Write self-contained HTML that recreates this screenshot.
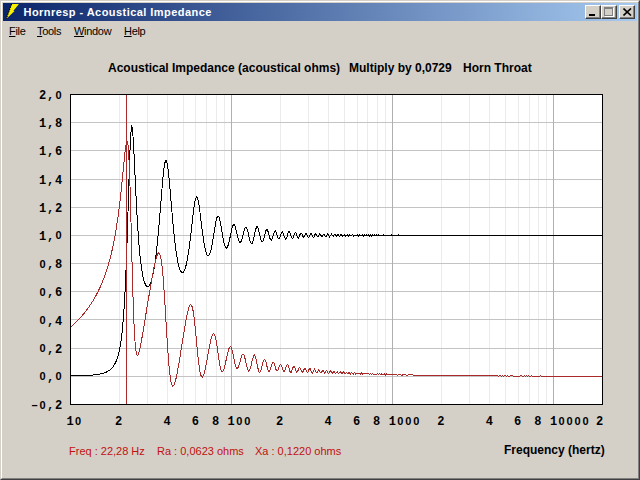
<!DOCTYPE html>
<html><head><meta charset="utf-8"><style>
*{margin:0;padding:0;box-sizing:border-box}
html,body{width:640px;height:480px;overflow:hidden;background:#d4d0c8;position:relative;font-family:"Liberation Sans",sans-serif}
.frame{position:absolute;left:0;top:0;width:640px;height:480px;border-top:1px solid #d4d0c8;border-left:1px solid #d4d0c8;border-right:1px solid #404040;border-bottom:1px solid #404040}
.frame2{position:absolute;left:1px;top:1px;width:638px;height:478px;border-top:1px solid #fff;border-left:1px solid #fff;border-right:1px solid #808080;border-bottom:1px solid #808080}
.title{position:absolute;left:3px;top:3px;width:634px;height:18px;background:linear-gradient(to right,#0a246a,#a6caf0)}
.ttext{position:absolute;left:23.5px;top:4px;color:#fff;font-weight:bold;font-size:11px;letter-spacing:0.45px;line-height:16px;white-space:nowrap}
.btn{position:absolute;top:5px;width:16px;height:14px;background:#d4d0c8;border-top:1px solid #fff;border-left:1px solid #fff;border-right:1px solid #404040;border-bottom:1px solid #404040;box-shadow:inset -1px -1px 0 #808080}
.menu{position:absolute;top:25px;font-size:11px;letter-spacing:-0.3px;line-height:13px;color:#000;white-space:nowrap}
.menu u{text-decoration:underline}
.ctitle{position:absolute;top:62px;font-size:12px;font-weight:bold;line-height:13px;white-space:nowrap;color:#000}
.yl{position:absolute;right:577.5px;font-family:"Liberation Mono",monospace;font-weight:bold;font-size:12px;letter-spacing:0.8px;line-height:16px;white-space:nowrap;color:#000}
.xl{position:absolute;top:414px;font-family:"Liberation Mono",monospace;font-weight:bold;font-size:12px;letter-spacing:0.8px;line-height:16px;white-space:nowrap;color:#000}
.yl i,.xl i{font-style:normal;display:inline-block;width:8px;height:16px;text-align:center;letter-spacing:0;vertical-align:top}
.yl i.z,.xl i.z{font-family:"Liberation Sans",sans-serif;font-size:11px;position:relative;top:-1.5px}
.st{position:absolute;top:445px;font-size:11px;line-height:13px;white-space:nowrap;color:#c01010}
</style></head><body>
<div class="frame"></div><div class="frame2"></div>
<div class="title"></div>
<svg style="position:absolute;left:5px;top:3px" width="16" height="17" viewBox="0 0 16 17"><path d="M6.6 1 L13.9 1 L8.3 8 L9.6 8 L1.2 15.9 Z" fill="#f8f000"/><path d="M6.6 1 L1.2 15.9" stroke="#000" stroke-width="1.1" stroke-dasharray="1.6 0.9"/></svg>
<div class="ttext">Hornresp - Acoustical Impedance</div>
<div class="btn" style="left:585px"><div style="position:absolute;left:3px;top:8px;width:6px;height:2px;background:#000"></div></div>
<div class="btn" style="left:601px"><div style="position:absolute;left:2px;top:1px;width:9px;height:9px;border:1px solid #808080;border-top-width:2px;box-shadow:1px 1px 0 #fff"></div></div>
<div class="btn" style="left:619px"><svg style="position:absolute;left:3px;top:2px" width="9" height="8" viewBox="0 0 9 8"><path d="M0.5 0.5 L8 7.5 M8 0.5 L0.5 7.5" stroke="#000" stroke-width="1.6"/></svg></div>
<div class="menu" style="left:9px"><u>F</u>ile</div>
<div class="menu" style="left:37px"><u>T</u>ools</div>
<div class="menu" style="left:74px"><u>W</u>indow</div>
<div class="menu" style="left:124px"><u>H</u>elp</div>
<div class="ctitle" style="left:108px">Acoustical Impedance (acoustical ohms)</div>
<div class="ctitle" style="left:349px">Multiply by 0,0729</div>
<div class="ctitle" style="left:463px">Horn Throat</div>
<svg width="640" height="480" viewBox="0 0 640 480" style="position:absolute;left:0;top:0">
<defs><clipPath id="pc"><rect x="71" y="95" width="531" height="309"/></clipPath></defs>
<rect x="70" y="94" width="533" height="311" fill="#fff"/>
<g shape-rendering="crispEdges"><line x1="119.5" y1="95" x2="119.5" y2="404" stroke="#ebebeb"/>
<line x1="147.5" y1="95" x2="147.5" y2="404" stroke="#ebebeb"/>
<line x1="167.5" y1="95" x2="167.5" y2="404" stroke="#ebebeb"/>
<line x1="183.5" y1="95" x2="183.5" y2="404" stroke="#ebebeb"/>
<line x1="195.5" y1="95" x2="195.5" y2="404" stroke="#ebebeb"/>
<line x1="206.5" y1="95" x2="206.5" y2="404" stroke="#ebebeb"/>
<line x1="216.5" y1="95" x2="216.5" y2="404" stroke="#ebebeb"/>
<line x1="224.5" y1="95" x2="224.5" y2="404" stroke="#ebebeb"/>
<line x1="280.5" y1="95" x2="280.5" y2="404" stroke="#ebebeb"/>
<line x1="308.5" y1="95" x2="308.5" y2="404" stroke="#ebebeb"/>
<line x1="328.5" y1="95" x2="328.5" y2="404" stroke="#ebebeb"/>
<line x1="344.5" y1="95" x2="344.5" y2="404" stroke="#ebebeb"/>
<line x1="357.5" y1="95" x2="357.5" y2="404" stroke="#ebebeb"/>
<line x1="367.5" y1="95" x2="367.5" y2="404" stroke="#ebebeb"/>
<line x1="377.5" y1="95" x2="377.5" y2="404" stroke="#ebebeb"/>
<line x1="385.5" y1="95" x2="385.5" y2="404" stroke="#ebebeb"/>
<line x1="441.5" y1="95" x2="441.5" y2="404" stroke="#ebebeb"/>
<line x1="469.5" y1="95" x2="469.5" y2="404" stroke="#ebebeb"/>
<line x1="489.5" y1="95" x2="489.5" y2="404" stroke="#ebebeb"/>
<line x1="505.5" y1="95" x2="505.5" y2="404" stroke="#ebebeb"/>
<line x1="518.5" y1="95" x2="518.5" y2="404" stroke="#ebebeb"/>
<line x1="529.5" y1="95" x2="529.5" y2="404" stroke="#ebebeb"/>
<line x1="538.5" y1="95" x2="538.5" y2="404" stroke="#ebebeb"/>
<line x1="546.5" y1="95" x2="546.5" y2="404" stroke="#ebebeb"/>
<line x1="602.5" y1="95" x2="602.5" y2="404" stroke="#ebebeb"/>
<line x1="71" y1="122.5" x2="602" y2="122.5" stroke="#c4c4c4"/>
<line x1="71" y1="150.5" x2="602" y2="150.5" stroke="#c4c4c4"/>
<line x1="71" y1="179.5" x2="602" y2="179.5" stroke="#c4c4c4"/>
<line x1="71" y1="207.5" x2="602" y2="207.5" stroke="#c4c4c4"/>
<line x1="71" y1="235.5" x2="602" y2="235.5" stroke="#c4c4c4"/>
<line x1="71" y1="263.5" x2="602" y2="263.5" stroke="#c4c4c4"/>
<line x1="71" y1="291.5" x2="602" y2="291.5" stroke="#c4c4c4"/>
<line x1="71" y1="319.5" x2="602" y2="319.5" stroke="#c4c4c4"/>
<line x1="71" y1="348.5" x2="602" y2="348.5" stroke="#c4c4c4"/>
<line x1="71" y1="376.5" x2="602" y2="376.5" stroke="#c4c4c4"/>
<line x1="231.5" y1="95" x2="231.5" y2="404" stroke="#b0b0b0"/>
<line x1="392.5" y1="95" x2="392.5" y2="404" stroke="#b0b0b0"/>
<line x1="553.5" y1="95" x2="553.5" y2="404" stroke="#b0b0b0"/></g>
<g clip-path="url(#pc)" fill="none" stroke-width="1" stroke-linejoin="round" shape-rendering="crispEdges">
<polyline points="70.50,375.98 71.50,375.96 72.50,375.94 73.50,375.92 74.50,375.90 75.50,375.88 76.50,375.85 77.50,375.83 78.50,375.80 79.50,375.77 80.50,375.74 81.50,375.70 82.50,375.66 83.50,375.62 84.50,375.58 85.50,375.53 86.50,375.48 87.50,375.42 88.50,375.36 89.50,375.30 90.50,375.22 91.50,375.14 92.50,375.05 93.50,374.96 94.50,374.85 95.50,374.73 96.50,374.60 97.50,374.46 98.50,374.30 99.50,374.11 100.50,373.91 101.50,373.68 102.50,373.43 103.50,373.14 104.50,372.80 105.50,372.43 106.50,371.99 107.50,371.49 108.50,370.92 109.50,370.25 110.50,369.46 111.50,368.54 112.50,367.45 113.50,366.16 114.50,364.60 115.50,362.72 116.50,360.43 117.50,357.62 118.50,354.13 119.50,349.77 120.50,344.27 121.50,337.26 122.50,328.26 123.50,316.64 124.50,301.60 125.50,282.26 126.50,257.86 127.50,228.32 128.50,195.22 129.50,162.78 130.50,137.60 131.50,125.74 132.50,128.86 133.50,143.52 134.50,164.09 135.50,185.89 136.50,206.17 137.50,223.78 138.50,238.52 139.50,250.59 140.50,260.33 141.50,268.09 142.50,274.18 143.50,278.85 144.50,282.30 145.50,284.69 146.50,286.11 147.50,286.65 148.50,286.33 149.50,285.19 150.50,283.21 151.50,280.36 152.50,276.60 153.50,271.86 154.50,266.07 155.50,259.15 156.50,251.04 157.50,241.70 158.50,231.16 159.50,219.56 160.50,207.21 161.50,194.65 162.50,182.68 163.50,172.29 164.50,164.60 165.50,160.53 166.50,160.64 167.50,164.85 168.50,172.56 169.50,182.78 170.50,194.39 171.50,206.43 172.50,218.12 173.50,228.96 174.50,238.68 175.50,247.13 176.50,254.30 177.50,260.20 178.50,264.89 179.50,268.43 180.50,270.87 181.50,272.26 182.50,272.62 183.50,271.95 184.50,270.25 185.50,267.47 186.50,263.60 187.50,258.61 188.50,252.48 189.50,245.27 190.50,237.11 191.50,228.28 192.50,219.27 193.50,210.76 194.50,203.60 195.50,198.67 196.50,196.66 197.50,197.85 198.50,202.01 199.50,208.46 200.50,216.29 201.50,224.59 202.50,232.61 203.50,239.82 204.50,245.87 205.50,250.56 206.50,253.80 207.50,255.55 208.50,255.80 209.50,254.55 210.50,251.85 211.50,247.76 212.50,242.47 213.50,236.30 214.50,229.78 215.50,223.64 216.50,218.80 217.50,216.10 218.50,216.06 219.50,218.66 220.50,223.32 221.50,229.15 222.50,235.15 223.50,240.51 224.50,244.65 225.50,247.20 226.50,247.98 227.50,246.96 228.50,244.24 229.50,240.14 230.50,235.21 231.50,230.27 232.50,226.37 233.50,224.44 234.50,224.98 235.50,227.75 236.50,231.90 237.50,236.31 238.50,239.95 239.50,242.07 240.50,242.30 241.50,240.60 242.50,237.30 243.50,233.14 244.50,229.28 245.50,227.02 246.50,227.26 247.50,230.02 248.50,234.38 249.50,238.92 250.50,242.35 251.50,243.79 252.50,242.84 253.50,239.64 254.50,234.94 255.50,230.09 256.50,226.86 257.50,226.59 258.50,229.40 259.50,234.02 260.50,238.58 261.50,241.50 262.50,241.91 263.50,239.77 264.50,235.83 265.50,231.69 266.50,229.30 267.50,229.91 268.50,233.10 269.50,237.07 270.50,239.83 271.50,240.16 272.50,237.96 273.50,234.37 274.50,231.42 275.50,230.98 276.50,233.26 277.50,236.56 278.50,238.63 279.50,238.18 280.50,235.51 281.50,232.54 282.50,231.67 283.50,233.79 284.50,237.25 285.50,239.36 286.50,238.48 287.50,235.09 288.50,231.69 289.50,231.21 290.50,234.08 291.50,237.66 292.50,238.92 293.50,236.96 294.50,233.63 295.50,232.20 296.50,234.11 297.50,237.13 298.50,238.05 299.50,235.98 300.50,233.26 301.50,233.12 302.50,235.63 303.50,237.48 304.50,236.36 305.50,233.77 306.50,233.42 307.50,236.00 308.50,237.87 309.50,236.31 310.50,233.25 311.50,233.10 312.50,236.08 313.50,237.69 314.50,235.73 315.50,233.46 316.50,234.59 317.50,236.93 318.50,236.34 319.50,233.99 320.50,234.30 321.50,236.56 322.50,236.27 323.50,234.08 324.50,234.70 325.50,236.97 326.50,235.99 327.50,233.56 328.50,234.86 329.50,237.04 330.50,235.52 331.50,234.01 332.50,235.89 333.50,236.29 334.50,234.32 335.50,235.15 336.50,236.50 337.50,234.73 338.50,234.83 339.50,236.67 340.50,234.94 341.50,234.28 342.50,236.56 343.50,235.43 344.50,234.52 345.50,236.25 346.50,235.05 347.50,234.96 348.50,236.26 349.50,234.62 350.50,235.66 351.50,235.93 352.50,234.27 353.50,236.24 354.50,235.29 355.50,235.01 356.50,235.96 357.50,234.70 358.50,236.08 359.50,234.88 360.50,235.69 361.50,235.46 362.50,234.88 363.50,236.17 364.50,234.70 365.50,235.95 366.50,234.85 367.50,235.98 368.50,234.79 369.50,236.05 370.50,234.70 371.50,236.02 372.50,234.93 373.50,235.78 374.50,234.98 375.50,235.89 376.50,234.90 377.50,235.88 378.50,234.95 379.50,235.75 380.50,235.27 381.50,235.25 382.50,235.78 383.50,234.96 384.50,235.72 385.50,235.34 386.50,235.21 387.50,235.72 388.50,235.21 389.50,235.26 390.50,235.84 391.50,234.99 392.50,235.47 393.50,235.65 394.50,235.28 395.50,235.13 396.50,235.73 397.50,235.55 398.50,234.99 399.50,235.45 400.50,235.60 401.50,235.62 402.50,235.07 403.50,235.19 404.50,235.60 405.50,235.58 406.50,235.63 407.50,235.23 408.50,235.04 409.50,235.37 410.50,235.33 411.50,235.54 412.50,235.78 413.50,235.58 414.50,235.47 415.50,235.59 416.50,235.47 417.50,235.24 418.50,235.32 419.50,235.46 420.50,235.38 421.50,235.26 422.50,235.35 423.50,235.58 424.50,235.67 425.50,235.61 426.50,235.46 427.50,235.38 428.50,235.30 429.50,235.32 430.50,235.41 431.50,235.56 432.50,235.64 433.50,235.43 434.50,235.19 435.50,235.27 436.50,235.43 437.50,235.29 438.50,235.15 439.50,235.37 440.50,235.31 441.50,235.18 442.50,235.43 443.50,235.25 444.50,235.43 445.50,235.49 446.50,235.46 447.50,235.59 448.50,235.41 449.50,235.39 450.50,235.27 451.50,235.31 452.50,235.60 453.50,235.41 454.50,235.39 455.50,235.36 456.50,235.40 457.50,235.48 458.50,235.37 459.50,235.44 460.50,235.38 461.50,235.25 462.50,235.57 463.50,235.44 464.50,235.49 465.50,235.49 466.50,235.37 467.50,235.48 468.50,235.36 469.50,235.46 470.50,235.46 471.50,235.40 472.50,235.59 473.50,235.31 474.50,235.38 475.50,235.45 476.50,235.33 477.50,235.42 478.50,235.48 479.50,235.47 480.50,235.35 481.50,235.24 482.50,235.44 483.50,235.42 484.50,235.58 485.50,235.49 486.50,235.56 487.50,235.52 488.50,235.48 489.50,235.57 490.50,235.56 491.50,235.46 492.50,235.33 493.50,235.27 494.50,235.33 495.50,235.51 496.50,235.52 497.50,235.32 498.50,235.39 499.50,235.49 500.50,235.25 501.50,235.51 502.50,235.37 503.50,235.47 504.50,235.29 505.50,235.56 506.50,235.26 507.50,235.49 508.50,235.46 509.50,235.32 510.50,235.34 511.50,235.46 512.50,235.54 513.50,235.51 514.50,235.45 515.50,235.41 516.50,235.41 517.50,235.45 518.50,235.52 519.50,235.56 520.50,235.45 521.50,235.28 522.50,235.38 523.50,235.53 524.50,235.32 525.50,235.44 526.50,235.42 527.50,235.40 528.50,235.36 529.50,235.55 530.50,235.33 531.50,235.35 532.50,235.51 533.50,235.53 534.50,235.48 535.50,235.43 536.50,235.40 537.50,235.47 538.50,235.52 539.50,235.52 540.50,235.34 541.50,235.33 542.50,235.54 543.50,235.30 544.50,235.49 545.50,235.29 546.50,235.53 547.50,235.39 548.50,235.29 549.50,235.39 550.50,235.50 551.50,235.50 552.50,235.50 553.50,235.45 554.50,235.32 555.50,235.32 556.50,235.53 557.50,235.35 558.50,235.46 559.50,235.32 560.50,235.54 561.50,235.37 562.50,235.29 563.50,235.33 564.50,235.35 565.50,235.32 566.50,235.29 567.50,235.41 568.50,235.52 569.50,235.29 570.50,235.53 571.50,235.28 572.50,235.42 573.50,235.54 574.50,235.51 575.50,235.49 576.50,235.54 577.50,235.49 578.50,235.31 579.50,235.46 580.50,235.37 581.50,235.51 582.50,235.32 583.50,235.29 584.50,235.33 585.50,235.29 586.50,235.30 587.50,235.49 588.50,235.39 589.50,235.44 590.50,235.30 591.50,235.44 592.50,235.51 593.50,235.49 594.50,235.38 595.50,235.30 596.50,235.53 597.50,235.29 598.50,235.43 599.50,235.53 600.50,235.54 601.50,235.48 602.50,235.31" stroke="#000"/>
<polyline points="70.50,327.06 71.50,326.20 72.50,325.32 73.50,324.41 74.50,323.49 75.50,322.54 76.50,321.56 77.50,320.56 78.50,319.54 79.50,318.49 80.50,317.40 81.50,316.29 82.50,315.15 83.50,313.97 84.50,312.75 85.50,311.50 86.50,310.21 87.50,308.88 88.50,307.51 89.50,306.09 90.50,304.62 91.50,303.10 92.50,301.52 93.50,299.89 94.50,298.19 95.50,296.42 96.50,294.59 97.50,292.67 98.50,290.68 99.50,288.59 100.50,286.41 101.50,284.12 102.50,281.72 103.50,279.19 104.50,276.53 105.50,273.72 106.50,270.75 107.50,267.60 108.50,264.25 109.50,260.68 110.50,256.86 111.50,252.77 112.50,248.38 113.50,243.64 114.50,238.51 115.50,232.95 116.50,226.91 117.50,220.32 118.50,213.12 119.50,205.26 120.50,196.71 121.50,187.45 122.50,177.56 123.50,167.27 124.50,157.09 125.50,148.00 126.50,141.76 127.50,141.06 128.50,149.37 129.50,169.66 130.50,201.98 131.50,241.59 132.50,280.66 133.50,312.61 134.50,334.83 135.50,348.00 136.50,354.24 137.50,355.71 138.50,354.08 139.50,350.54 140.50,345.84 141.50,340.47 142.50,334.72 143.50,328.77 144.50,322.73 145.50,316.65 146.50,310.58 147.50,304.54 148.50,298.54 149.50,292.59 150.50,286.72 151.50,280.97 152.50,275.38 153.50,270.03 154.50,265.04 155.50,260.57 156.50,256.83 157.50,254.11 158.50,252.78 159.50,253.28 160.50,256.08 161.50,261.66 162.50,270.32 163.50,282.11 164.50,296.63 165.50,312.99 166.50,329.92 167.50,346.01 168.50,360.04 169.50,371.19 170.50,379.15 171.50,384.01 172.50,386.12 173.50,385.96 174.50,384.00 175.50,380.67 176.50,376.33 177.50,371.26 178.50,365.68 179.50,359.76 180.50,353.63 181.50,347.38 182.50,341.10 183.50,334.88 184.50,328.81 185.50,323.01 186.50,317.61 187.50,312.80 188.50,308.82 189.50,305.96 190.50,304.60 191.50,305.11 192.50,307.86 193.50,313.06 194.50,320.67 195.50,330.26 196.50,340.99 197.50,351.75 198.50,361.40 199.50,369.06 200.50,374.23 201.50,376.85 202.50,377.13 203.50,375.45 204.50,372.23 205.50,367.90 206.50,362.82 207.50,357.32 208.50,351.71 209.50,346.29 210.50,341.36 211.50,337.31 212.50,334.51 213.50,333.40 214.50,334.34 215.50,337.53 216.50,342.82 217.50,349.63 218.50,356.96 219.50,363.63 220.50,368.66 221.50,371.46 222.50,371.93 223.50,370.33 224.50,367.13 225.50,362.89 226.50,358.19 227.50,353.62 228.50,349.78 229.50,347.26 230.50,346.59 231.50,348.11 232.50,351.70 233.50,356.70 234.50,361.95 235.50,366.18 236.50,368.50 237.50,368.59 238.50,366.71 239.50,363.50 240.50,359.76 241.50,356.41 242.50,354.32 243.50,354.22 244.50,356.42 245.50,360.53 246.50,365.36 247.50,369.35 248.50,371.24 249.50,370.60 250.50,367.77 251.50,363.63 252.50,359.30 253.50,356.01 254.50,354.85 255.50,356.53 256.50,360.78 257.50,366.18 258.50,370.66 259.50,372.59 260.50,371.59 261.50,368.34 262.50,364.18 263.50,360.64 264.50,359.15 265.50,360.49 266.50,364.24 267.50,368.61 268.50,371.41 269.50,371.41 270.50,368.92 271.50,365.37 272.50,362.60 273.50,362.13 274.50,364.40 275.50,368.09 276.50,370.82 277.50,370.95 278.50,368.69 279.50,365.77 280.50,364.31 281.50,365.59 282.50,368.91 283.50,371.70 284.50,371.73 285.50,369.03 286.50,365.66 287.50,364.23 288.50,366.18 289.50,370.18 290.50,372.84 291.50,372.07 292.50,368.90 293.50,366.23 294.50,366.53 295.50,369.59 296.50,372.25 297.50,371.85 298.50,369.13 299.50,367.17 300.50,368.25 301.50,371.20 302.50,372.41 303.50,370.63 304.50,368.40 305.50,368.87 306.50,371.63 307.50,372.82 308.50,370.70 309.50,368.21 310.50,369.03 311.50,372.31 312.50,373.34 313.50,370.92 314.50,368.95 315.50,370.52 316.50,372.93 317.50,372.16 318.50,369.90 319.50,370.38 320.50,372.78 321.50,372.58 322.50,370.45 323.50,370.93 324.50,373.22 325.50,372.46 326.50,370.17 327.50,371.36 328.50,373.81 329.50,372.46 330.50,370.62 331.50,372.39 332.50,373.42 333.50,371.50 334.50,371.77 335.50,373.61 336.50,372.30 337.50,371.62 338.50,373.65 339.50,372.72 340.50,371.37 341.50,373.67 342.50,373.44 343.50,371.68 344.50,373.43 345.50,373.26 346.50,372.16 347.50,373.86 348.50,372.89 349.50,372.67 350.50,374.11 351.50,372.31 352.50,373.49 353.50,374.00 354.50,372.42 355.50,374.07 356.50,373.06 357.50,373.59 358.50,373.77 359.50,373.04 360.50,374.33 361.50,372.76 362.50,374.46 363.50,373.33 364.50,373.81 365.50,373.82 366.50,373.79 367.50,373.96 368.50,373.74 369.50,374.14 370.50,373.64 371.50,374.46 372.50,373.58 373.50,374.35 374.50,374.01 375.50,374.07 376.50,374.36 377.50,373.82 378.50,374.73 379.50,373.72 380.50,374.73 381.50,374.00 382.50,374.45 383.50,374.52 384.50,373.96 385.50,375.02 386.50,373.94 387.50,374.64 388.50,374.71 389.50,374.17 390.50,374.66 391.50,374.89 392.50,374.10 393.50,374.85 394.50,374.85 395.50,374.48 396.50,374.44 397.50,375.18 398.50,374.68 399.50,374.54 400.50,374.66 401.50,375.08 402.50,375.09 403.50,374.49 404.50,374.74 405.50,374.84 406.50,375.13 407.50,375.28 408.50,374.85 409.50,374.79 410.50,374.82 411.50,374.72 412.50,374.97 413.50,375.27 414.50,375.14 415.50,375.25 416.50,375.44 417.50,375.39 418.50,375.20 419.50,375.35 420.50,375.48 421.50,375.45 422.50,375.28 423.50,375.31 424.50,375.39 425.50,375.42 426.50,375.25 427.50,375.05 428.50,375.01 429.50,375.15 430.50,375.43 431.50,375.55 432.50,375.46 433.50,375.34 434.50,375.42 435.50,375.62 436.50,375.49 437.50,375.29 438.50,375.50 439.50,375.56 440.50,375.34 441.50,375.58 442.50,375.60 443.50,375.49 444.50,375.75 445.50,375.51 446.50,375.69 447.50,375.39 448.50,375.53 449.50,375.35 450.50,375.69 451.50,375.60 452.50,375.72 453.50,375.53 454.50,375.42 455.50,375.80 456.50,375.73 457.50,375.43 458.50,375.66 459.50,375.86 460.50,375.56 461.50,375.62 462.50,375.67 463.50,375.57 464.50,375.88 465.50,375.66 466.50,375.91 467.50,375.70 468.50,375.93 469.50,375.69 470.50,375.94 471.50,375.68 472.50,375.79 473.50,375.77 474.50,375.62 475.50,375.91 476.50,375.93 477.50,375.65 478.50,375.74 479.50,375.99 480.50,375.87 481.50,375.81 482.50,375.72 483.50,375.73 484.50,375.82 485.50,375.89 486.50,375.87 487.50,375.98 488.50,375.91 489.50,375.87 490.50,375.89 491.50,375.83 492.50,375.78 493.50,375.83 494.50,375.97 495.50,375.98 496.50,375.81 497.50,375.83 498.50,376.03 499.50,375.85 500.50,375.95 501.50,376.07 502.50,375.86 503.50,376.04 504.50,375.92 505.50,376.00 506.50,376.02 507.50,375.87 508.50,376.09 509.50,376.04 510.50,375.92 511.50,375.90 512.50,376.00 513.50,376.10 514.50,376.16 515.50,376.17 516.50,376.18 517.50,376.17 518.50,376.13 519.50,376.02 520.50,375.90 521.50,375.99 522.50,376.18 523.50,376.03 524.50,375.99 525.50,376.16 526.50,375.96 527.50,376.19 528.50,375.94 529.50,376.12 530.50,376.18 531.50,375.99 532.50,376.03 533.50,376.15 534.50,376.21 535.50,376.21 536.50,376.22 537.50,376.23 538.50,376.14 539.50,376.05 540.50,375.99 541.50,376.19 542.50,376.15 543.50,376.06 544.50,376.22 545.50,376.08 546.50,376.12 547.50,376.26 548.50,376.08 549.50,376.02 550.50,376.04 551.50,376.08 552.50,376.05 553.50,376.03 554.50,376.07 555.50,376.25 556.50,376.21 557.50,376.05 558.50,376.26 559.50,376.07 560.50,376.17 561.50,376.29 562.50,376.16 563.50,376.08 564.50,376.07 565.50,376.10 566.50,376.20 567.50,376.29 568.50,376.13 569.50,376.15 570.50,376.22 571.50,376.22 572.50,376.05 573.50,376.16 574.50,376.26 575.50,376.28 576.50,376.23 577.50,376.10 578.50,376.13 579.50,376.32 580.50,376.09 581.50,376.28 582.50,376.29 583.50,376.15 584.50,376.12 585.50,376.15 586.50,376.27 587.50,376.30 588.50,376.09 589.50,376.34 590.50,376.16 591.50,376.10 592.50,376.14 593.50,376.13 594.50,376.10 595.50,376.28 596.50,376.23 597.50,376.26 598.50,376.11 599.50,376.19 600.50,376.20 601.50,376.13 602.50,376.17" stroke="#aa2a2a"/>
</g>
<line x1="126.5" y1="95" x2="126.5" y2="404" stroke="#aa2a2a" shape-rendering="crispEdges"/>
<rect x="70.5" y="94.5" width="532" height="310" fill="none" stroke="#000" shape-rendering="crispEdges"/>
</svg>
<div class="yl" style="top:88.0px"><i>2</i><i>,</i><i class="z">0</i></div><div class="yl" style="top:116.2px"><i>1</i><i>,</i><i>8</i></div><div class="yl" style="top:144.4px"><i>1</i><i>,</i><i>6</i></div><div class="yl" style="top:172.5px"><i>1</i><i>,</i><i>4</i></div><div class="yl" style="top:200.7px"><i>1</i><i>,</i><i>2</i></div><div class="yl" style="top:228.9px"><i>1</i><i>,</i><i class="z">0</i></div><div class="yl" style="top:257.1px"><i class="z">0</i><i>,</i><i>8</i></div><div class="yl" style="top:285.3px"><i class="z">0</i><i>,</i><i>6</i></div><div class="yl" style="top:313.5px"><i class="z">0</i><i>,</i><i>4</i></div><div class="yl" style="top:341.6px"><i class="z">0</i><i>,</i><i>2</i></div><div class="yl" style="top:369.8px"><i class="z">0</i><i>,</i><i class="z">0</i></div><div class="yl" style="top:398.0px"><i>&#8211;</i><i class="z">0</i><i>,</i><i>2</i></div>
<div class="xl" style="left:66.0px"><i>1</i><i class="z">0</i></div>
<div class="xl" style="left:114.5px"><i>2</i></div>
<div class="xl" style="left:163.0px"><i>4</i></div>
<div class="xl" style="left:191.4px"><i>6</i></div>
<div class="xl" style="left:211.5px"><i>8</i></div>
<div class="xl" style="left:227.2px"><i>1</i><i class="z">0</i><i class="z">0</i></div>
<div class="xl" style="left:275.7px"><i>2</i></div>
<div class="xl" style="left:324.2px"><i>4</i></div>
<div class="xl" style="left:352.6px"><i>6</i></div>
<div class="xl" style="left:372.7px"><i>8</i></div>
<div class="xl" style="left:388.3px"><i>1</i><i class="z">0</i><i class="z">0</i><i class="z">0</i></div>
<div class="xl" style="left:436.8px"><i>2</i></div>
<div class="xl" style="left:485.4px"><i>4</i></div>
<div class="xl" style="left:513.7px"><i>6</i></div>
<div class="xl" style="left:533.9px"><i>8</i></div>
<div class="xl" style="left:549.5px"><i>1</i><i class="z">0</i><i class="z">0</i><i class="z">0</i><i class="z">0</i></div>
<div class="xl" style="left:595.5px"><i>2</i></div>
<div class="st" style="left:69px">Freq : 22,28 Hz</div>
<div class="st" style="left:157px">Ra : 0,0623 ohms</div>
<div class="st" style="left:255px">Xa : 0,1220 ohms</div>
<div class="ctitle" style="left:504px;top:444px">Frequency (hertz)</div>
</body></html>
